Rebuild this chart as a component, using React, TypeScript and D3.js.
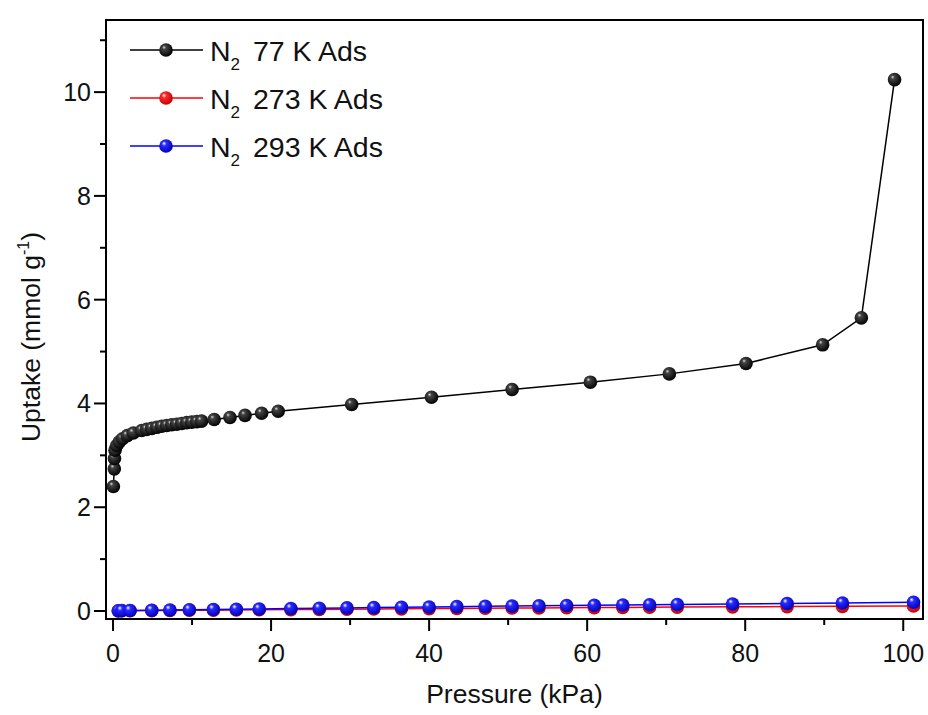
import * as d3 from 'd3';
import React from 'react';

// N2 77 K adsorption (pressure kPa, uptake mmol/g)
const n2_77_p = [0.04, 0.16, 0.18, 0.25, 0.47, 0.8, 1.2, 1.8, 2.57, 3.63, 4.26, 4.9, 5.53, 6.16, 6.8, 7.43, 8.06, 8.7, 9.33, 9.96, 10.6, 11.2, 12.8, 14.8, 16.7, 18.8, 20.9, 30.2, 40.3, 50.5, 60.4, 70.4, 80.1, 89.8, 94.7, 98.9];
const n2_77_u = [2.4, 2.74, 2.94, 3.1, 3.19, 3.26, 3.32, 3.38, 3.43, 3.48, 3.5, 3.52, 3.54, 3.56, 3.575, 3.59, 3.6, 3.615, 3.63, 3.64, 3.65, 3.66, 3.69, 3.73, 3.77, 3.81, 3.85, 3.98, 4.12, 4.27, 4.41, 4.57, 4.77, 5.13, 5.65, 10.24];

// N2 273 K / 293 K share the same pressure points
const n2_hiT_p = [0.67, 1.1, 2.15, 4.9, 7.2, 9.66, 12.7, 15.6, 18.5, 22.5, 26.1, 29.6, 33.0, 36.5, 40.0, 43.5, 47.1, 50.5, 53.9, 57.4, 60.9, 64.5, 67.9, 71.4, 78.4, 85.3, 92.3, 101.3];
const n2_273_u = [0.003, 0.004, 0.005, 0.008, 0.011, 0.014, 0.017, 0.02, 0.023, 0.027, 0.031, 0.035, 0.038, 0.042, 0.046, 0.05, 0.053, 0.057, 0.06, 0.063, 0.066, 0.069, 0.072, 0.075, 0.08, 0.085, 0.09, 0.096];
const n2_293_u = [0.005, 0.007, 0.01, 0.015, 0.02, 0.025, 0.03, 0.035, 0.04, 0.048, 0.054, 0.06, 0.066, 0.072, 0.078, 0.084, 0.09, 0.095, 0.1, 0.105, 0.11, 0.115, 0.12, 0.125, 0.135, 0.145, 0.155, 0.168];

const xTicks = [0, 20, 40, 60, 80, 100];
const xMinor = [10, 30, 50, 70, 90];
const yTicks = [0, 2, 4, 6, 8, 10];
const yMinor = [1, 3, 5, 7, 9, 11];

const series = [
  { name: '77 K Ads', p: n2_77_p, u: n2_77_u, color: '#000000', grad: 'gBlack' },
  { name: '273 K Ads', p: n2_hiT_p, u: n2_273_u, color: '#ff0000', grad: 'gRed' },
  { name: '293 K Ads', p: n2_hiT_p, u: n2_293_u, color: '#0000ff', grad: 'gBlue' },
];

const FONT = "Arial, 'Liberation Sans', sans-serif";

export default function App() {
  const W = 928;
  const H = 715;
  const left = 106, right = 923, top = 20, bottom = 619;

  const x = d3.scaleLinear().domain([-0.89, 102.5]).range([left, right]);
  const y = d3.scaleLinear().domain([-0.154, 11.39]).range([bottom, top]);

  const line = d3
    .line<[number, number]>()
    .x((d) => x(d[0]))
    .y((d) => y(d[1]));

  const r = 6.8;

  return (
    <svg width={W} height={H} style={{ position: 'absolute', left: 0, top: 0 }} fontFamily={FONT}>
      <defs>
        <radialGradient id="gBlack" cx="42%" cy="40%" r="62%" fx="35%" fy="30%">
          <stop offset="0%" stopColor="#e0e0e0" />
          <stop offset="22%" stopColor="#444" />
          <stop offset="100%" stopColor="#000" />
        </radialGradient>
        <radialGradient id="gRed" cx="42%" cy="40%" r="62%" fx="35%" fy="30%">
          <stop offset="0%" stopColor="#fff" />
          <stop offset="28%" stopColor="#ff2a2a" />
          <stop offset="100%" stopColor="#c40000" />
        </radialGradient>
        <radialGradient id="gBlue" cx="42%" cy="40%" r="62%" fx="35%" fy="30%">
          <stop offset="0%" stopColor="#fff" />
          <stop offset="28%" stopColor="#2a2aff" />
          <stop offset="100%" stopColor="#0000b4" />
        </radialGradient>
      </defs>

      <rect width={W} height={H} fill="#fff" />

      {/* data */}
      {series.map((s) => {
        const pts = s.p.map((p, i) => [p, s.u[i]] as [number, number]);
        return (
          <g key={s.name}>
            <path d={line(pts) || ''} fill="none" stroke={s.color} strokeWidth={1.5} />
            {pts.map((d, i) => (
              <circle key={i} cx={x(d[0])} cy={y(d[1])} r={r} fill={`url(#${s.grad})`} />
            ))}
          </g>
        );
      })}

      {/* frame */}
      <rect x={left} y={top} width={right - left} height={bottom - top} fill="none" stroke="#000" strokeWidth={2} />

      {/* x axis ticks */}
      {xTicks.map((t) => (
        <g key={t}>
          <line x1={x(t)} x2={x(t)} y1={bottom} y2={bottom + 12} stroke="#000" strokeWidth={2} />
          <text x={x(t)} y={bottom + 43} textAnchor="middle" fontSize={25} fill="#111">
            {t}
          </text>
        </g>
      ))}
      {xMinor.map((t) => (
        <line key={t} x1={x(t)} x2={x(t)} y1={bottom} y2={bottom + 6} stroke="#000" strokeWidth={2} />
      ))}

      {/* y axis ticks */}
      {yTicks.map((t) => (
        <g key={t}>
          <line x1={left} x2={left - 12} y1={y(t)} y2={y(t)} stroke="#000" strokeWidth={2} />
          <text x={left - 15} y={y(t) + 9} textAnchor="end" fontSize={25} fill="#111">
            {t}
          </text>
        </g>
      ))}
      {yMinor.map((t) => (
        <line key={t} x1={left} x2={left - 6} y1={y(t)} y2={y(t)} stroke="#000" strokeWidth={2} />
      ))}

      {/* axis titles */}
      <text x={(left + right) / 2} y={703} textAnchor="middle" fontSize={26.5} fill="#111">
        Pressure (kPa)
      </text>
      <text transform="translate(40, 337) rotate(-90)" textAnchor="middle" fontSize={26.5} fill="#111">
        Uptake (mmol g
        <tspan fontSize={16} dy={-11}>-1</tspan>
        <tspan dy={11}>)</tspan>
      </text>

      {/* legend */}
      {series.map((s, i) => {
        const ly = 50 + i * 48;
        return (
          <g key={s.name}>
            <line x1={130} x2={203} y1={ly} y2={ly} stroke={s.color} strokeWidth={1.5} />
            <circle cx={166} cy={ly} r={r} fill={`url(#${s.grad})`} />
            <text x={210} y={ly + 11} fontSize={28.5} fill="#111">
              N<tspan fontSize={17} dy={9}>2</tspan>
              <tspan dy={-9} dx={5}> {s.name}</tspan>
            </text>
          </g>
        );
      })}
    </svg>
  );
}
